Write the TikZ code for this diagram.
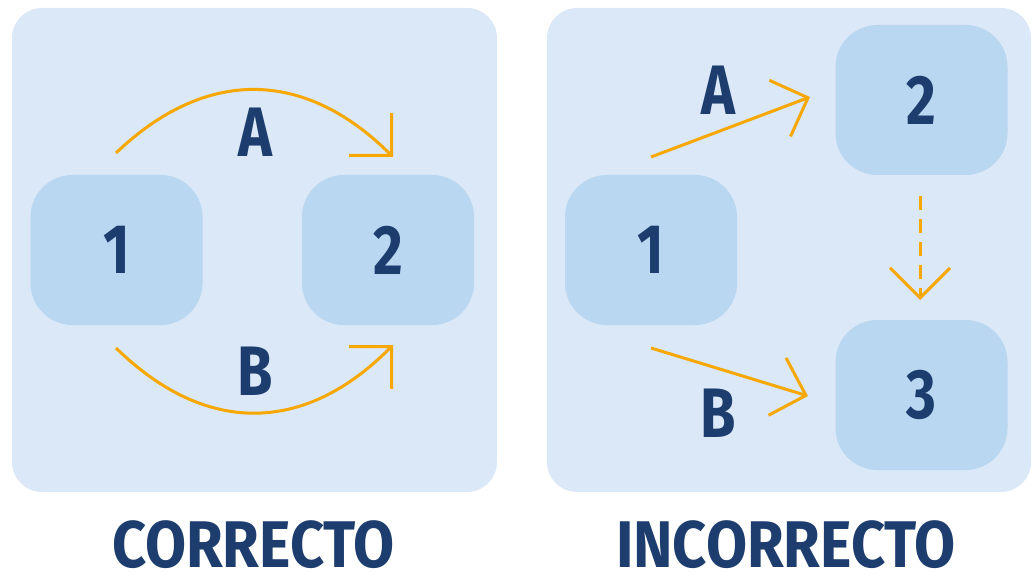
\documentclass[tikz,border=0pt]{standalone}
\usepackage{fontspec}
\usepackage{graphicx}
\setmainfont{Fira Sans}[UprightFont={* Bold},BoldFont={* Bold},FakeStretch=0.82]
\usetikzlibrary{arrows.meta}
\definecolor{panelbg}{HTML}{DAE8F7}
\definecolor{nodebg}{HTML}{B9D7F1}
\definecolor{navy}{HTML}{1C3D6E}
\definecolor{orangec}{HTML}{F7A800}
\tikzset{
  panel/.style={fill=panelbg, draw=none, rounded corners=30pt},
  numbox/.style={fill=nodebg, draw=none, rounded corners=42pt, minimum width=172pt, minimum height=150pt, inner sep=0pt, text=navy, font=\fontsize{70pt}{70pt}\selectfont},
  lbl/.style={text=navy, anchor=base, inner sep=0pt, font=\fontsize{70pt}{70pt}\selectfont},
  ttl/.style={text=navy, anchor=base, inner sep=0pt, font=\fontsize{66pt}{66pt}\selectfont},
  conn/.style={draw=orangec, line width=3pt, -{Straight Barb[length=30pt,width=60pt,line width=3pt]}},
}
\begin{document}
\begin{tikzpicture}[x=1pt,y=-1pt]
\useasboundingbox (0,0) rectangle (1032,577);
% panels
\fill[panel] (12,8) rectangle (497,492);
\fill[panel] (547,8) rectangle (1031,492);
% left nodes
\node[numbox] (L1) at (116.5,250) {1};
\node[numbox] (L2) at (388,250) {2};
% right nodes
\node[numbox] (R1) at (651,250) {1};
\node[numbox] (R2) at (921.5,100) {2};
\node[numbox] (R3) at (921.5,395) {3};
% coordinates for connector ends
\coordinate (LAs) at (116,153);
\coordinate (LAe) at (393,157);
\coordinate (LBs) at (116,348);
\coordinate (LBe) at (393,345);
\coordinate (RAs) at (651,157);
\coordinate (RAe) at (810,97);
\coordinate (RBs) at (651,348);
\coordinate (RBe) at (808,396);
\coordinate (RDs) at (920,196);
\coordinate (RDe) at (920,300);
% connectors
\draw[conn] (LAs) .. controls (205,68) and (304,68) .. (LAe);
\draw[conn] (LBs) .. controls (205,435) and (304,435) .. (LBe);
\draw[conn] (RAs) -- (RAe);
\draw[conn] (RBs) -- (RBe);
\draw[conn, dash pattern=on 14pt off 9pt] (RDs) -- (RDe);
% labels
\node[lbl] (tA) at (255,157) {A};
\node[lbl] (tB) at (255,395) {B};
\node[lbl] (tRA) at (718,115) {A};
\node[lbl] (tRB) at (718,437) {B};
% titles
\node[ttl] (t1) at (253.5,567) {\scalebox{1.1}[1]{CORRECTO}};
\node[ttl] (t2) at (786,567) {\scalebox{1.1}[1]{INCORRECTO}};
\end{tikzpicture}
\end{document}
